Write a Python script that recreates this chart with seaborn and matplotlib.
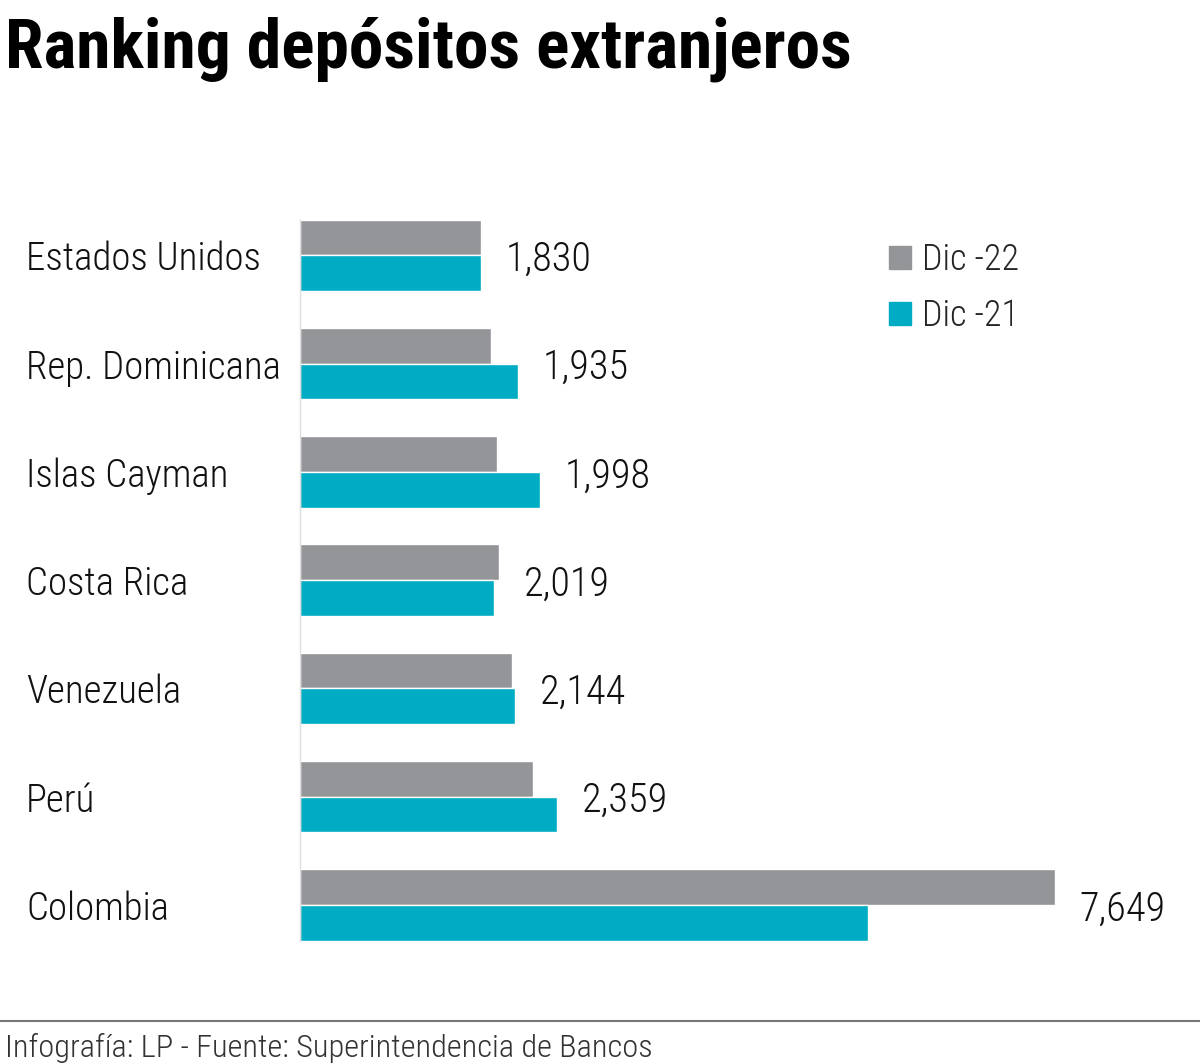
import pandas as pd
import seaborn as sns
import matplotlib.pyplot as plt
import matplotlib.transforms as mtransforms
from matplotlib.patches import Patch

# Data
paises = ["Estados Unidos", "Rep. Dominicana", "Islas Cayman", "Costa Rica",
          "Venezuela", "Perú", "Colombia"]
dic_22 = [1830, 1935, 1998, 2019, 2144, 2359, 7649]
dic_21 = [1830, 2209, 2432, 1966, 2178, 2604, 5755]
series = ["Dic -22", "Dic -21"]
colores = ["#939598", "#00abc4"]

df = pd.DataFrame({
    "pais": paises * 2,
    "valor": dic_22 + dic_21,
    "serie": [series[0]] * len(paises) + [series[1]] * len(paises),
})

sns.set_style("white")
fuente = ["Roboto Condensed", "Liberation Sans Narrow", "Roboto", "DejaVu Sans"]
plt.rcParams["font.family"] = fuente

fig = plt.figure(figsize=(12, 10.63), dpi=100)
ax = fig.add_axes([0.25, 0.0978, 0.75, 0.713])

sns.barplot(data=df, y="pais", x="valor", hue="serie", order=paises,
            hue_order=series, palette=colores, width=0.66, saturation=1,
            legend=False, ax=ax)

ax.set_xlim(0, 9120)
ax.set_ylim(6.5, -0.5)
ax.set_xlabel("")
ax.set_ylabel("")
ax.set_xticks([])
ax.set_yticks([])
for s in ["top", "right", "bottom"]:
    ax.spines[s].set_visible(False)
ax.spines["left"].set_color("#dddddd")
ax.spines["left"].set_linewidth(1)
ax.spines["left"].set_bounds(-0.33, len(paises) - 1 + 0.33)

# etiquetas de categoria
trans = mtransforms.blended_transform_factory(fig.transFigure, ax.transData)
for i, p in enumerate(paises):
    ax.text(26 / 1200, i + 0.04, p, transform=trans, ha="left", va="center",
            fontsize=28, fontweight="light", color="#111111")

# valores
for i, (a, b) in enumerate(zip(dic_22, dic_21)):
    ax.annotate(f"{a:,}", xy=(max(a, b), i + 0.04), xytext=(18, 0),
                textcoords="offset points", ha="left", va="center",
                fontsize=29, fontweight="light", color="#111111")

# leyenda
handles = [Patch(color=c, label=s) for c, s in zip(colores, series)]
fig.legend(handles=handles, loc="upper left", bbox_to_anchor=(0.714, 0.803),
           frameon=False, prop={"size": 26, "weight": "light"},
           handlelength=0.6, handleheight=0.6,
           handletextpad=0.3, labelspacing=0.55)

# titulo
fig.text(5 / 1200, 1 - 68 / 1063, "Ranking depósitos extranjeros",
         fontsize=50, fontweight="bold", color="#000000", ha="left",
         va="baseline")

# linea y fuente
fig.add_artist(plt.Line2D([0, 1], [1 - 1021 / 1063] * 2, color="#777777",
                          linewidth=1.5, transform=fig.transFigure))
fig.text(5 / 1200, 1 - 1057 / 1063,
         "Infografía: LP - Fuente: Superintendencia de Bancos",
         fontsize=23.3, fontweight="light", color="#333333", ha="left",
         va="baseline")

fig.savefig("out.png", dpi=100)
